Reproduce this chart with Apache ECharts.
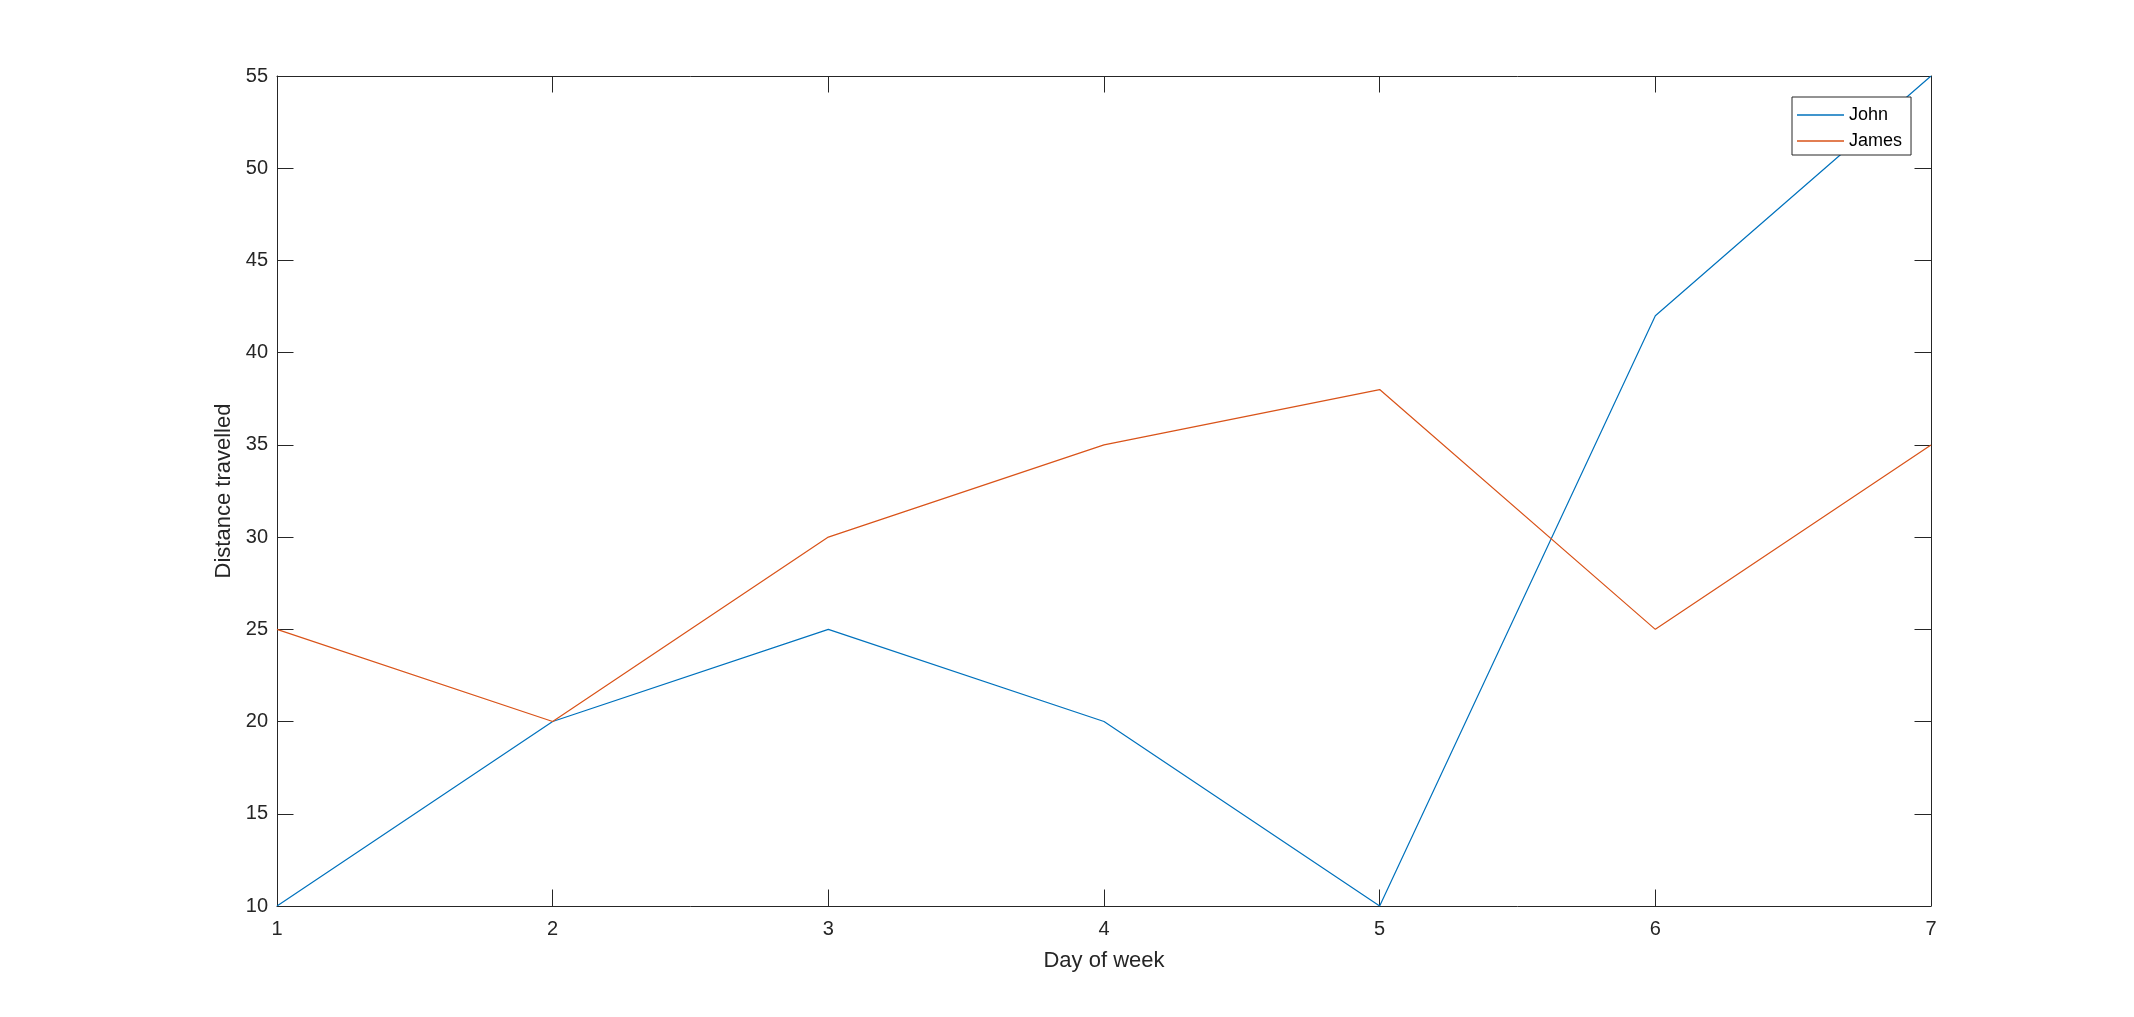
<!DOCTYPE html>
<html>
<head>
<meta charset="utf-8">
<script src="https://cdn.jsdelivr.net/npm/echarts@6/dist/echarts.min.js"></script>
<style>
html,body{margin:0;padding:0;background:#fff;}
#chart{width:2134px;height:1017px;}
</style>
</head>
<body>
<div id="chart"></div>
<script>
const days = [1, 2, 3, 4, 5, 6, 7];
const johnValues = [10, 20, 25, 20, 10, 42, 55];
const jamesValues = [25, 20, 30, 35, 38, 25, 35];
const seriesNames = ['John', 'James'];
const xTicks = [1, 2, 3, 4, 5, 6, 7];
const yTicks = [10, 15, 20, 25, 30, 35, 40, 45, 50, 55];

const FONT = "'Liberation Sans', Arial, Helvetica, sans-serif";
const AX = '#262626';

const chart = echarts.init(document.getElementById('chart'), null, {renderer: 'canvas'});

function pairs(xs, ys) { return xs.map((x, i) => [x, ys[i]]); }

const tickCommon = {show: true, inside: true, length: 16.5, lineStyle: {color: AX, width: 1}};

chart.setOption({
  animation: false,
  backgroundColor: '#ffffff',
  grid: {left: 277, right: 203, top: 76, bottom: 111, containLabel: false},
  legend: {
    orient: 'vertical',
    left: 1792,
    top: 97,
    data: seriesNames,
    icon: 'rect',
    itemWidth: 47,
    itemHeight: 1.4,
    itemGap: 8,
    padding: [9, 9, 5, 5],
    borderColor: AX,
    borderWidth: 1,
    backgroundColor: '#ffffff',
    textStyle: {fontFamily: FONT, fontSize: 18, lineHeight: 18, color: '#000000'},
    selectedMode: false
  },
  xAxis: [
    {
      type: 'value', min: xTicks[0], max: xTicks[xTicks.length - 1], interval: 1,
      name: 'Day of week', nameLocation: 'middle', nameGap: 44,
      nameTextStyle: {fontFamily: FONT, fontSize: 22, color: AX},
      axisLine: {show: true, onZero: false, lineStyle: {color: AX, width: 1}},
      axisTick: tickCommon,
      axisLabel: {fontFamily: FONT, fontSize: 20, color: AX, margin: 13},
      splitLine: {show: false}
    },
    {
      type: 'value', position: 'top', min: xTicks[0], max: xTicks[xTicks.length - 1], interval: 1,
      axisLine: {show: true, onZero: false, lineStyle: {color: AX, width: 1}},
      axisTick: tickCommon,
      axisLabel: {show: false},
      splitLine: {show: false}
    }
  ],
  yAxis: [
    {
      type: 'value', min: yTicks[0], max: yTicks[yTicks.length - 1], interval: 5,
      name: 'Distance travelled', nameLocation: 'middle', nameGap: 37,
      nameTextStyle: {fontFamily: FONT, fontSize: 22, color: AX},
      axisLine: {show: true, onZero: false, lineStyle: {color: AX, width: 1}},
      axisTick: tickCommon,
      axisLabel: {fontFamily: FONT, fontSize: 20, color: AX, margin: 9},
      splitLine: {show: false}
    },
    {
      type: 'value', position: 'right', min: yTicks[0], max: yTicks[yTicks.length - 1], interval: 5,
      axisLine: {show: true, onZero: false, lineStyle: {color: AX, width: 1}},
      axisTick: tickCommon,
      axisLabel: {show: false},
      splitLine: {show: false}
    }
  ],
  series: [
    {
      name: seriesNames[0], type: 'line', data: pairs(days, johnValues),
      symbol: 'none', color: '#0072BD',
      lineStyle: {color: '#0072BD', width: 1.2}
    },
    {
      name: seriesNames[1], type: 'line', data: pairs(days, jamesValues),
      symbol: 'none', color: '#D95319',
      lineStyle: {color: '#D95319', width: 1.2}
    }
  ]
});
</script>
</body>
</html>
